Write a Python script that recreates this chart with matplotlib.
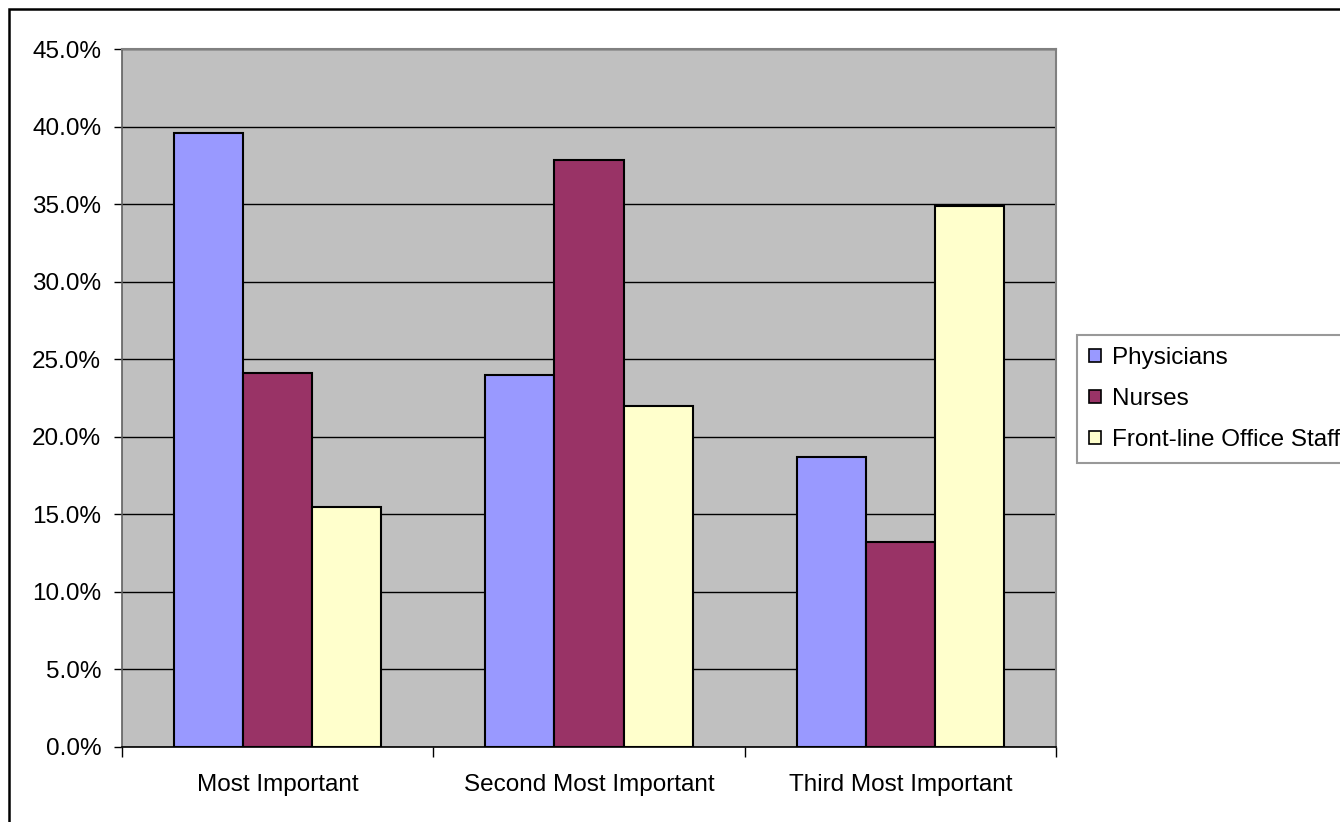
import matplotlib
matplotlib.use("Agg")
import matplotlib.pyplot as plt
import matplotlib.patches as mpatches
from matplotlib.ticker import FixedLocator, FuncFormatter
import numpy as np

categories = ["Most Important", "Second Most Important", "Third Most Important"]
series_names = ["Physicians", "Nurses", "Front-line Office Staff"]
physicians = [39.6, 24.0, 18.7]
nurses = [24.1, 37.9, 13.2]
front_line = [15.45, 22.0, 34.9]
colors = ["#9999FF", "#993366", "#FFFFCC"]
y_ticks = [0, 5, 10, 15, 20, 25, 30, 35, 40, 45]

plt.rcParams["font.family"] = ["Liberation Sans", "DejaVu Sans"]
FS = 17.5

fig = plt.figure(figsize=(13.4, 8.22), dpi=100)
ax = fig.add_axes([122/1340, 1-746.7/822, (1056-122)/1340, (746.7-49.5)/822])
ax.set_facecolor("#C0C0C0")

x = np.arange(len(categories))
w = 1/4.5
data = [physicians, nurses, front_line]
for i, (vals, name, c) in enumerate(zip(data, series_names, colors)):
    ax.bar(x + (i-1)*w, vals, width=w, color=c, edgecolor="black",
           linewidth=1.5, label=name, zorder=3)

ax.set_xlim(-0.5, 2.5)
ax.set_ylim(0, 45)
ax.yaxis.set_major_locator(FixedLocator(y_ticks))
ax.yaxis.set_major_formatter(FuncFormatter(lambda v, p: f"{v:.1f}%"))
ax.grid(axis="y", color="black", linewidth=1.0, zorder=1)
ax.set_axisbelow(True)

ax.set_xticks([-0.5, 0.5, 1.5, 2.5])
ax.set_xticklabels([])
ax.set_xticks(x, minor=True)
ax.set_xticklabels(categories, minor=True, fontsize=FS)
ax.tick_params(axis="x", which="major", direction="out", length=7, width=1, color="black")
ax.tick_params(axis="x", which="minor", length=0, pad=19.5)
ax.tick_params(axis="y", direction="out", length=6, width=1, color="black", labelsize=FS, pad=9)

for s in ["top", "right"]:
    ax.spines[s].set_color("#808080")
    ax.spines[s].set_linewidth(1.5)
ax.spines["left"].set_color("#606060")
ax.spines["left"].set_linewidth(1.2)
ax.spines["bottom"].set_color("black")
ax.spines["bottom"].set_linewidth(1.2)

handles = [mpatches.Patch(facecolor=c, edgecolor="black", linewidth=1.2) for c in colors]
leg = fig.legend(handles, series_names, loc="upper left",
                 bbox_to_anchor=(1077/1340, 1-335/822), fontsize=FS,
                 frameon=True, fancybox=False, handlelength=0.5, handleheight=0.5,
                 handletextpad=0.45, labelspacing=0.78, borderpad=0.5,
                 borderaxespad=0)
leg.get_frame().set_edgecolor("#808080")
leg.get_frame().set_linewidth(1.5)

border = mpatches.Rectangle((9/1340, -0.05), 1.1, 1-9/822+0.05, transform=fig.transFigure,
                            fill=False, edgecolor="black", linewidth=1.8)
fig.patches.append(border)

fig.savefig("out.png", dpi=100)
